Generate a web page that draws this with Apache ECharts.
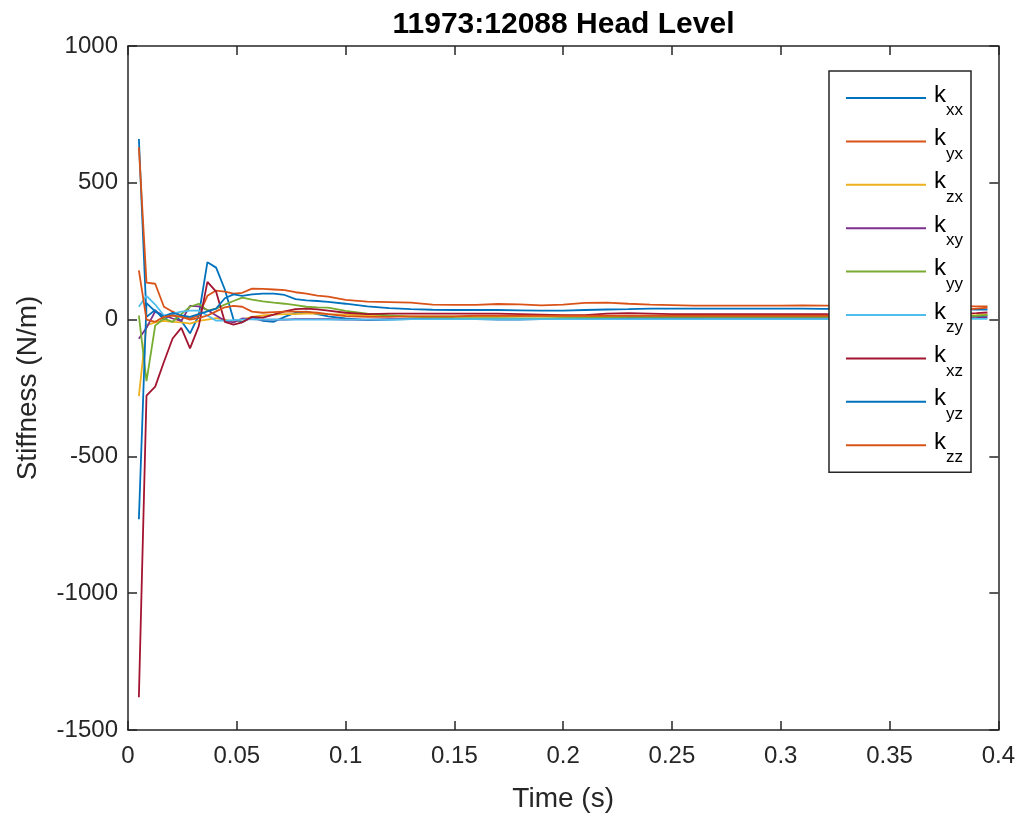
<!DOCTYPE html>
<html><head><meta charset="utf-8">
<script src="https://cdn.jsdelivr.net/npm/echarts@6/dist/echarts.min.js"></script>
<style>html,body{margin:0;padding:0;background:#fff}#c{width:1018px;height:818px}</style>
</head><body><div id="c"></div>
<script>
const titleText = '11973:12088 Head Level';
const xName = 'Time (s)';
const yName = 'Stiffness (N/m)';
const xTicks = [0, 0.05, 0.1, 0.15, 0.2, 0.25, 0.3, 0.35, 0.4];
const yTicks = [-1500, -1000, -500, 0, 500, 1000];

const time = [0.005, 0.0085, 0.0125, 0.0165, 0.0205, 0.0245, 0.0285, 0.0325, 0.0365, 0.0405, 0.0445, 0.0485, 0.0525, 0.057, 0.062, 0.067, 0.072, 0.077, 0.082, 0.087, 0.092, 0.1,
  0.11, 0.12, 0.13, 0.14, 0.15, 0.16, 0.17, 0.18, 0.19, 0.2, 0.21, 0.22, 0.23, 0.24, 0.25, 0.26, 0.27, 0.28, 0.29, 0.3, 0.31, 0.32, 0.33, 0.34, 0.35, 0.36, 0.37, 0.38, 0.39, 0.395];

const kxx = [660, 10, 35, 0, 20, -5, -50, 15, 210, 190, 110, 0, -10, 10, -5, -8, 10, 25, 29, 20, 12, 4,
  -2, 0, 2, 3, 3, 2, 0, 0, 2, 4, 5, 6, 6, 6, 6, 6, 8, 8, 8, 8, 8, 8, 8, 8, 8, 8, 10, 10, 12, 14];
const kyx = [630, 135, 131, 47, 29, 15, 4, 15, 87, 106, 102, 95, 98, 113, 112, 110, 108, 100, 95, 88, 84, 72,
  66, 64, 62, 55, 54, 54, 57, 56, 52, 55, 61, 62, 58, 55, 53, 51, 51, 51, 51, 51, 52, 51, 51, 51, 50, 50, 50, 49, 48, 48];
const kzx = [-280, -20, -10, -5, -8, -10, -15, -5, 0, 5, 0, -8, 0, 10, 15, 18, 20, 20, 22, 22, 20, 18,
  15, 14, 12, 12, 12, 12, 12, 12, 12, 12, 12, 12, 12, 12, 12, 12, 12, 12, 12, 12, 12, 12, 12, 12, 12, 12, 12, 14, 16, 18];
const kxy = [-70, -30, 30, 15, 4, -5, 50, 48, 35, 15, -4, -10, 4, 2, 0, 0, 0, 2, 2, 2, 2, 0,
  0, 2, 2, 2, 2, 2, 2, 2, 2, 2, 2, 2, 2, 2, 2, 2, 2, 2, 2, 2, 2, 2, 2, 2, 2, 2, 3, 4, 6, 8];
const kyy = [15, -225, -22, 4, -8, 20, 47, 58, 33, 40, 55, 68, 80, 73, 67, 62, 58, 53, 47, 45, 44, 32,
  22, 15, 10, 8, 6, 5, 5, 4, 4, 5, 6, 8, 10, 10, 10, 10, 10, 10, 10, 10, 10, 10, 10, 10, 10, 10, 10, 12, 14, 16];
const kzy = [47, 87, 55, 15, 22, 29, 33, 33, 15, -4, -4, -2, 0, 2, 0, 0, 0, 0, 0, 0, 0, 0,
  0, 0, 2, 2, 2, 2, 2, 2, 2, 2, 2, 2, 2, 2, 2, 2, 2, 2, 2, 2, 2, 2, 2, 2, 3, 3, 3, 3, 3, 3];
const kxz = [-1380, -278, -245, -155, -69, -30, -105, -25, 138, 102, -8, -18, -10, 10, 7, 18, 30, 38, 40, 37, 33, 25,
  20, 22, 22, 22, 22, 22, 22, 20, 18, 16, 16, 22, 24, 22, 20, 20, 20, 20, 20, 20, 20, 20, 18, 18, 18, 20, 22, 22, 24, 26];
const kyz = [-730, 60, 30, 10, 25, 15, 10, 20, 30, 40, 78, 92, 87, 92, 95, 95, 90, 75, 70, 68, 65, 58,
  48, 42, 38, 36, 35, 35, 35, 34, 33, 33, 35, 37, 38, 40, 40, 40, 40, 40, 40, 40, 40, 39, 39, 38, 38, 38, 38, 38, 37, 37];
const kzz = [180, 0, -8, 10, 15, 10, 0, 5, 15, 30, 45, 50, 47, 29, 25, 27, 29, 29, 28, 25, 20, 13,
  10, 10, 12, 12, 12, 14, 14, 14, 14, 14, 14, 14, 14, 14, 14, 14, 14, 14, 14, 14, 14, 14, 14, 14, 16, 20, 26, 32, 40, 44];

const seriesNames = ['k_xx', 'k_yx', 'k_zx', 'k_xy', 'k_yy', 'k_zy', 'k_xz', 'k_yz', 'k_zz'];
const seriesValues = [kxx, kyx, kzx, kxy, kyy, kzy, kxz, kyz, kzz];
const colors = ['#0072BD', '#D95319', '#EDB120', '#7E2F8E', '#77AC30', '#4DBEEE', '#A2142F', '#0072BD', '#D95319'];

const FONT = '"Liberation Sans", Arial, Helvetica, sans-serif';
const AX = '#262626';

const chart = echarts.init(document.getElementById('c'), null, {renderer: 'canvas'});

function axisCommon(min, max, interval) {
  return {
    type: 'value', min: min, max: max, interval: interval,
    axisLine: {show: true, onZero: false, lineStyle: {color: AX, width: 1.5}},
    axisTick: {show: true, inside: true, length: 9, lineStyle: {color: AX, width: 1.5}},
    splitLine: {show: false}
  };
}

const xMain = Object.assign(axisCommon(xTicks[0], xTicks[xTicks.length - 1], xTicks[1] - xTicks[0]), {
  position: 'bottom',
  axisLabel: {show: true, fontSize: 24, color: AX, fontFamily: FONT, margin: 14, formatter: v => String(v)},
  name: xName, nameLocation: 'middle', nameGap: 55,
  nameTextStyle: {fontSize: 28, color: AX, fontFamily: FONT}
});
const xTop = Object.assign(axisCommon(xTicks[0], xTicks[xTicks.length - 1], xTicks[1] - xTicks[0]), {
  position: 'top', axisLabel: {show: false}
});
const yMain = Object.assign(axisCommon(yTicks[0], yTicks[yTicks.length - 1], yTicks[1] - yTicks[0]), {
  position: 'left',
  axisLabel: {show: true, fontSize: 24, color: AX, fontFamily: FONT, margin: 10, formatter: v => String(v)},
  name: yName, nameLocation: 'middle', nameGap: 86, nameRotate: 90,
  nameTextStyle: {fontSize: 28, color: AX, fontFamily: FONT}
});
const yRight = Object.assign(axisCommon(yTicks[0], yTicks[yTicks.length - 1], yTicks[1] - yTicks[0]), {
  position: 'right', axisLabel: {show: false}
});

const series = seriesNames.map((n, i) => ({
  name: n, type: 'line', xAxisIndex: 0, yAxisIndex: 0,
  showSymbol: false, symbol: 'none',
  lineStyle: {width: 1.8, color: colors[i]},
  itemStyle: {color: colors[i]},
  emphasis: {disabled: true},
  data: time.map((t, j) => [t, seriesValues[i][j]])
}));

chart.setOption({
  animation: false,
  backgroundColor: '#fff',
  title: {
    text: titleText, left: 563.5, top: 10, textAlign: 'center', padding: 0,
    textStyle: {fontSize: 30, fontWeight: 'bold', color: '#000', fontFamily: FONT}
  },
  grid: {left: 128, right: 19, top: 46, bottom: 85, containLabel: false},
  xAxis: [xMain, xTop],
  yAxis: [yMain, yRight],
  legend: {
    orient: 'vertical', left: 829, top: 71,
    padding: [6, 8, 6, 17],
    icon: 'rect',
    itemWidth: 80, itemHeight: 2, itemGap: 1.4,
    backgroundColor: '#fff', borderColor: AX, borderWidth: 1.5, borderRadius: 0,
    data: seriesNames,
    formatter: n => '{k|k}{s|' + n.slice(2) + '}',
    textStyle: {
      padding: [0, 0, 0, 3],
      rich: {
        k: {fontSize: 24, lineHeight: 24, padding: [6, 0, 12, 0], fontFamily: FONT, color: '#000'},
        s: {fontSize: 17, lineHeight: 17, padding: [25, 0, 0, 0], fontFamily: FONT, color: '#000'}
      }
    }
  },
  series: series
});
</script></body></html>
